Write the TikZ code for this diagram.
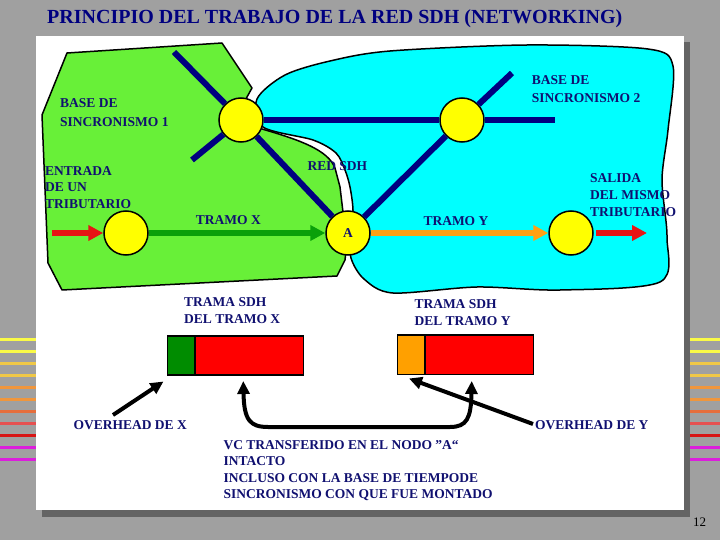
\documentclass[tikz,border=0pt]{standalone}
\usepackage{fontspec}
\setmainfont{Liberation Serif}
\usetikzlibrary{arrows.meta}
\definecolor{bggray}{RGB}{160,160,160}
\definecolor{shadowgray}{RGB}{100,100,100}
\definecolor{blobgreen}{RGB}{104,240,56}
\definecolor{blobcyan}{RGB}{0,255,255}
\definecolor{nodeyellow}{RGB}{255,255,0}
\definecolor{linenavy}{RGB}{0,0,128}
\definecolor{labnavy}{RGB}{16,16,112}
\definecolor{titlenavy}{RGB}{0,0,128}
\definecolor{arrgreen}{RGB}{10,160,10}
\definecolor{arrorange}{RGB}{255,160,20}
\definecolor{arrred}{RGB}{230,20,20}
\definecolor{boxgreen}{RGB}{0,140,0}
\definecolor{boxorange}{RGB}{255,160,0}
\definecolor{boxred}{RGB}{255,0,0}
\definecolor{s1}{RGB}{250,250,70}
\definecolor{s2}{RGB}{250,250,70}
\definecolor{s3}{RGB}{240,200,70}
\definecolor{s4}{RGB}{240,200,70}
\definecolor{s5}{RGB}{240,150,60}
\definecolor{s6}{RGB}{240,150,60}
\definecolor{s7}{RGB}{230,110,60}
\definecolor{s8}{RGB}{230,80,80}
\definecolor{s9}{RGB}{215,20,20}
\definecolor{s10}{RGB}{220,30,220}
\definecolor{s11}{RGB}{220,30,220}
\tikzset{
  netnode/.style={circle, draw=black, line width=1.5pt, fill=nodeyellow, minimum size=44pt, inner sep=0},
  navyline/.style={draw=linenavy, line width=6pt},
  lab/.style={text=labnavy, font=\fontsize{13.5}{16.5}\selectfont\bfseries, inner sep=0, anchor=north west, align=left},
  flow/.style={line width=5pt, -{Triangle[length=15pt,width=15pt]}},
  blk/.style={line width=4pt, draw=black, -{Triangle[length=13pt,width=12pt]}},
  framebox/.style={draw=black, line width=1.5pt, inner sep=0}
}
\begin{document}
\begin{tikzpicture}[x=1pt,y=-1pt]
\useasboundingbox (0,0) rectangle (720,540);
\fill[bggray] (0,0) rectangle (720,540);
% side stripes
\foreach \i in {1,...,11} {
  \fill[s\i] (0,{325.8+12*\i}) rectangle (36,{328.8+12*\i});
  \fill[s\i] (690,{325.8+12*\i}) rectangle (720,{328.8+12*\i});
}
% panel with shadow
\fill[shadowgray] (42,42) rectangle (690,517);
\fill[white] (36,36) rectangle (684,510);
% title
\node[text=titlenavy, font=\fontsize{20}{24}\selectfont\bfseries, inner sep=0, anchor=north west] (title) at (47,9.5) {PRINCIPIO DEL TRABAJO DE LA RED SDH (NETWORKING)};
% cyan blob
\draw[fill=blobcyan, line width=1.5pt] plot[smooth cycle, tension=0.5] coordinates {
 (257,99) (285,75) (330,61) (390,51) (527,45) (648,49) (673,66) (668,130) (662,180)
 (667,237) (660,282) (560,290) (477,287) (393,293) (364,279) (351,258) (351,234)
 (353,210) (350,187) (345,170) (336,153) (313,140) (263,127) };
% green blob
\draw[fill=blobgreen, line width=1.5pt, line join=round]
 (67,53) -- (222,43) -- (252,88) -- (247,97) -- (241,120) -- (262,129)
 .. controls (300,140) and (328,150) .. (335,168) -- (340,187) -- (343,212) -- (348,233)
 -- (345,260) -- (337,276) -- (62,290) -- (48,263) -- (42,115) -- cycle;
% network nodes
\node[netnode] (n1) at (241,120) {};
\node[netnode] (n2) at (462,120) {};
\node[netnode] (tin) at (126,233) {};
\node[netnode] (a) at (348,233) {};
\node[netnode] (tout) at (571,233) {};
\coordinate (e1) at (174,52);
\coordinate (e2) at (192,160);
\coordinate (e3) at (555,120);
\coordinate (e4) at (512,73);
\draw[navyline] (n1) -- (e1);
\draw[navyline] (n1) -- (e2);
\draw[navyline] (n1) -- (n2);
\draw[navyline] (n1) -- (a);
\draw[navyline] (n2) -- (e3);
\draw[navyline] (n2) -- (e4);
\draw[navyline] (n2) -- (a);
% tributary flow
\coordinate (rin) at (52,233);
\coordinate (rout) at (647,233);
\draw[flow, arrred] (rin) -- (tin);
\draw[flow, arrgreen] (tin) -- (a);
\draw[flow, arrorange] (a) -- (tout);
\draw[flow, arrred] ([xshift=2pt]tout.east) -- (rout);
\node[text=labnavy, font=\fontsize{13.5}{16.5}\selectfont\bfseries, inner sep=0] (alab) at (a) {A};
% labels
\node[lab] (base1) at (60,98.3) {BASE DE\\[2.5pt]SINCRONISMO 1};
\node[lab] (base2) at (531.7,75) {BASE DE\\[2pt]SINCRONISMO 2};
\node[lab] (entrada) at (45,166) {ENTRADA\\DE UN\\TRIBUTARIO};
\node[lab] (salida) at (590,173.3) {SALIDA\\[0.5pt]DEL MISMO\\[0.5pt]TRIBUTARIO};
\node[lab] (tramox) at (195.7,215) {TRAMO X};
\node[lab] (tramoy) at (423.3,216.7) {TRAMO Y};
\node[lab] (redsdh) at (307.3,161) {RED SDH};
\node[lab] (tramasx) at (184,297.3) {TRAMA SDH\\[0.5pt]DEL TRAMO X};
\node[lab] (tramasy) at (414.3,299) {TRAMA SDH\\[0.5pt]DEL TRAMO Y};
\node[lab] (ovx) at (73.3,420) {OVERHEAD DE X};
\node[lab] (ovy) at (535,420) {OVERHEAD DE Y};
\node[lab] (vc) at (223.3,440) {VC TRANSFERIDO EN EL NODO ”A“\\INTACTO\\INCLUSO CON LA BASE DE TIEMPODE\\SINCRONISMO CON QUE FUE MONTADO};
% frames
\draw[framebox, fill=boxgreen] (167.7,336) rectangle (195,375);
\draw[framebox, fill=boxred] (195,336) rectangle (303.3,375);
\draw[framebox, fill=boxorange] (397.7,335) rectangle (425,374.3);
\draw[framebox, fill=boxred] (425,335) rectangle (533.3,374.3);
\coordinate (ohxs) at (113,415);
\coordinate (ohxe) at (163.5,381.5);
\coordinate (ohys) at (533,424);
\coordinate (ohye) at (409,378.5);
\coordinate (vcl) at (243.3,381);
\coordinate (vcr) at (471.7,381);
\draw[blk] (ohxs) -- (ohxe);
\draw[blk] (ohys) -- (ohye);
\draw[line width=4pt, draw=black, {Triangle[length=13pt,width=12pt]}-{Triangle[length=13pt,width=12pt]}]
  (vcl) .. controls (244,420) and (250,427) .. (268,427) -- (450,427) .. controls (467,427) and (471,418) .. (vcr);
% page number
\node[inner sep=0, anchor=north west, font=\fontsize{13}{15}\selectfont] (pnum) at (693,518) {12};
\end{tikzpicture}
\end{document}
